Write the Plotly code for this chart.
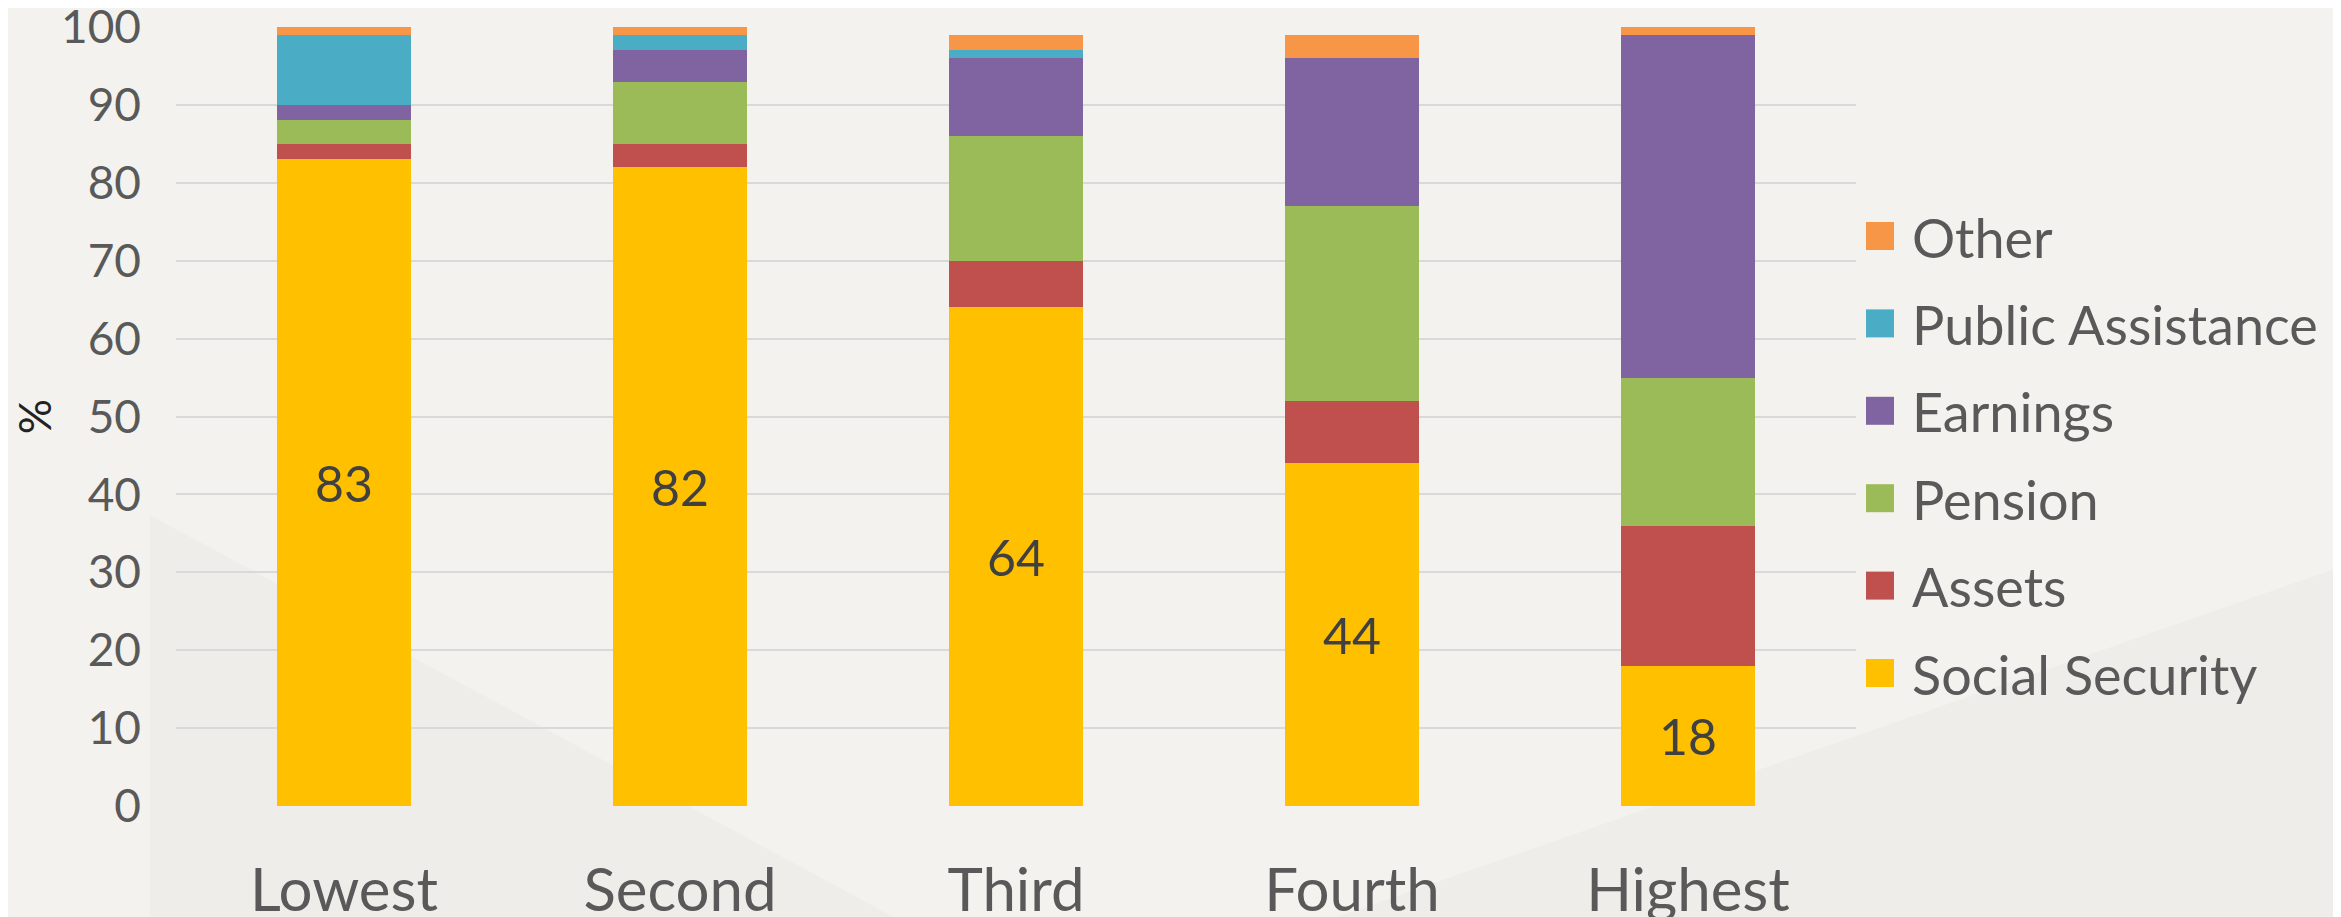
import plotly.graph_objects as go

# income quintiles and share of income by source (%)
quintiles = ["Lowest", "Second", "Third", "Fourth", "Highest"]
social_security = [83, 82, 64, 44, 18]
assets = [2, 3, 6, 8, 18]
pension = [3, 8, 16, 25, 19]
earnings = [2, 4, 10, 19, 44]
public_assistance = [9, 2, 1, 0, 0]
other = [1, 1, 2, 3, 1]

series = [
    ("Social Security", social_security, "#FFC000"),
    ("Assets", assets, "#C0504D"),
    ("Pension", pension, "#9BBB59"),
    ("Earnings", earnings, "#8064A2"),
    ("Public Assistance", public_assistance, "#4BACC6"),
    ("Other", other, "#F79646"),
]

W, H = 2341, 917
OFF = 8  # page body margin
L, R, T, B = 176 - OFF, 2341 - 1856 + OFF, 27 - OFF, 917 - 806 + OFF
FONT = "Lato"


def px_x(x):
    # page pixel -> paper coordinate
    return (x - OFF - L) / (W - L - R)


def px_y(y):
    return (H - B - (y - OFF)) / (H - T - B)


fig = go.Figure()

for name, vals, color in series:
    labelled = name == "Social Security"
    fig.add_trace(go.Bar(
        x=quintiles, y=vals, name=name,
        marker=dict(color=color, line=dict(width=0)),
        text=vals if labelled else None,
        textposition="inside" if labelled else "none",
        insidetextanchor="middle",
        textangle=0,
        constraintext="none",
        textfont=dict(family=FONT, size=50, color="#404040"),
        showlegend=False,
        hoverinfo="x+y+name",
    ))

# legend drawn by hand so the squares can be as big as in the original
legend_top, legend_step = 236, 87.4
for i, (name, vals, color) in enumerate(reversed(series)):
    cy = legend_top + i * legend_step
    fig.add_shape(type="rect", xref="paper", yref="paper",
                  x0=px_x(1866), x1=px_x(1894), y0=px_y(cy - 14), y1=px_y(cy + 14),
                  fillcolor=color, line=dict(width=0))
    fig.add_annotation(text=name, xref="paper", yref="paper",
                       x=px_x(1910), y=px_y(cy + 1), xanchor="left", yanchor="middle",
                       showarrow=False,
                       font=dict(family=FONT, size=54, color="#595959"))

# faint decorative shading in the background
shade = "rgba(0,0,0,0.018)"
left_poly = [(150, 515), (918, 930), (150, 930)]
right_poly = [(2360, 560), (1299, 930), (2360, 930)]
for poly in (left_poly, right_poly):
    path = "M " + " L ".join(f"{px_x(a):.4f},{px_y(b):.4f}" for a, b in poly) + " Z"
    fig.add_shape(type="path", path=path, xref="paper", yref="paper",
                  fillcolor=shade, line=dict(width=0), layer="below")

fig.update_layout(
    width=W, height=H,
    barmode="stack",
    bargap=0.6,
    showlegend=False,
    paper_bgcolor="#F3F2EE",
    plot_bgcolor="rgba(0,0,0,0)",
    margin=dict(l=L, r=R, t=T, b=B),
    font=dict(family=FONT, color="#595959"),
)

fig.update_yaxes(
    range=[0, 100], dtick=10,
    showgrid=True, gridcolor="#D9D9D9", gridwidth=2,
    zeroline=False, showline=False, ticks="",
    tickfont=dict(family=FONT, size=46, color="#595959"),
    ticklabelstandoff=34,
    ticklabeloverflow="allow",
    title=dict(text="%", font=dict(family=FONT, size=44, color="#222222"), standoff=34),
    automargin=False,
)
fig.update_xaxes(
    showgrid=False, showline=False, ticks="",
    tickfont=dict(family=FONT, size=60, color="#595959"),
    ticklabelstandoff=44,
    ticklabeloverflow="allow",
    automargin=False,
)

fig.write_html("out.html")
